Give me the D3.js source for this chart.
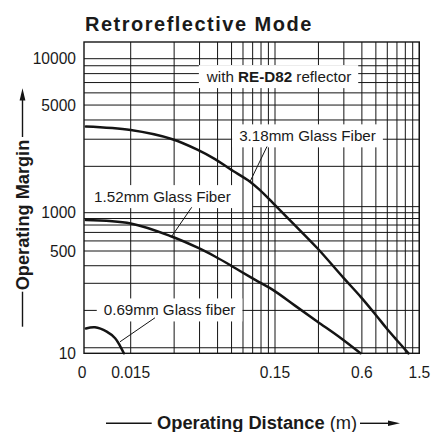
<!DOCTYPE html>
<html>
<head>
<meta charset="utf-8">
<script src="https://cdn.jsdelivr.net/npm/d3@7"></script>
<style>
  body { margin: 0; background: #fff; }
  svg { display: block; }
  text { font-family: "Liberation Sans", Arial, Helvetica, sans-serif; fill: #1a1a1a; }
</style>
</head>
<body>
<svg id="chart" width="445" height="432"></svg>
<script>
// ---- axis ticks and grid ----
const xTickValues = [0, 0.015, 0.15, 0.6, 1.5];
const xTickLabels = ["0", "0.015", "0.15", "0.6", "1.5"];
const xGridValues = [0.015, 0.03, 0.045, 0.06, 0.075, 0.09, 0.105, 0.12, 0.135, 0.15,
                     0.3, 0.45, 0.6, 0.75, 0.9, 1.05, 1.2, 1.35, 1.5];
const yTickValues = [10, 500, 1000, 5000, 10000];
const yTickLabels = ["10", "500", "1000", "5000", "10000"];
const yGridValues = [12, 41, 100, 240, 500, 600, 700, 800, 900, 1000,
                     2000, 3000, 4000, 5000, 6000, 7000, 8000, 9000, 10000];
// extra line near 1000 that only runs over the far range
const yGridFar = [1095];
const yGridFarFrom = 0.105;

// ---- excess gain curves (distance in m, operating margin) ----
const dist318   = [0.0006, 0.015, 0.0288, 0.0441, 0.0576, 0.0732, 0.1007, 0.118, 0.1459, 0.2, 0.294, 0.451, 0.589, 0.752, 0.889, 1.045, 1.262];
const margin318 = [3630, 3440, 3010, 2550, 2230, 1920, 1590, 1400, 1150, 825, 528, 128, 64, 35, 22.8, 15.5, 10];

const dist152   = [0.0006, 0.015, 0.0288, 0.0441, 0.0576, 0.0732, 0.0858, 0.1148, 0.1459, 0.2064, 0.294, 0.423, 0.587];
const margin152 = [876, 822, 650, 528, 380, 249, 185, 109, 80, 48, 28.5, 16.8, 10];

const dist069   = [0.0006, 0.0035, 0.0073, 0.01, 0.0116, 0.0128];
const margin069 = [22.6, 23.5, 20.4, 16.4, 12.7, 10];

// ---- callouts ----
const calloutText = ["3.18mm Glass Fiber", "1.52mm Glass Fiber", "0.69mm Glass fiber"];
const calloutAt   = [[0.252, 3150], [0.0249, 1270], [0.0279, 41.5]];
const leaderFrom  = [[0.132, 2690], [0.0397, 1084], [0.0221, 32.2]];
const leaderTo    = [[0.1007, 1590], [0.0288, 650], [0.01156, 14.6]];
const reflectorAt = [0.16, 7640];

// ---- layout ----
const svg = d3.select("#chart");
const plot = { left: 84, right: 419.3, top: 42, bottom: 353.3, split: 130.7 };

// Distance axis: linear from 0 to 0.015 m, logarithmic beyond.
const xNear = d3.scaleLinear().domain([0, 0.015]).range([plot.left, plot.split]);
const xFar = d3.scaleLog().domain([0.015, 1.5]).range([plot.split, plot.right]);
const x = v => (v < 0.015 ? xNear(v) : xFar(v));

// Margin axis: piecewise logarithmic.
const y = d3.scaleLog()
  .domain([10, 100, 500, 1000, 10000, 13000])
  .range([plot.bottom, 283.3, 251, 212.7, 58.7, plot.top]);

const ink = "#141414";

// grid
const grid = svg.append("g").attr("stroke", ink).attr("stroke-width", 1);
grid.selectAll("line.v").data(xGridValues).join("line")
  .attr("x1", d => x(d)).attr("x2", d => x(d))
  .attr("y1", plot.top).attr("y2", plot.bottom);
grid.selectAll("line.h").data(yGridValues).join("line")
  .attr("x1", plot.left).attr("x2", plot.right)
  .attr("y1", d => y(d)).attr("y2", d => y(d));
grid.selectAll("line.hf").data(yGridFar).join("line")
  .attr("x1", x(yGridFarFrom)).attr("x2", plot.right)
  .attr("y1", d => y(d)).attr("y2", d => y(d));

// frame
svg.append("rect")
  .attr("x", plot.left).attr("y", plot.top)
  .attr("width", plot.right - plot.left).attr("height", plot.bottom - plot.top)
  .attr("fill", "none").attr("stroke", ink).attr("stroke-width", 1.4);

// white backing behind a text group
function boxedText(g, padX, padY) {
  const bb = g.node().getBBox();
  g.insert("rect", ":first-child")
    .attr("x", bb.x - padX).attr("y", bb.y - padY)
    .attr("width", bb.width + 2 * padX).attr("height", bb.height + 2 * padY)
    .attr("fill", "#fff");
}

const refG = svg.append("g");
const refT = refG.append("text")
  .attr("x", x(reflectorAt[0])).attr("y", y(reflectorAt[1]) + 5.4)
  .attr("text-anchor", "middle").attr("font-size", 15.2);
refT.append("tspan").text("with ");
refT.append("tspan").attr("font-weight", "bold").text("RE-D82");
refT.append("tspan").text(" reflector");
boxedText(refG, 7, 3);

calloutText.forEach((t, i) => {
  const g = svg.append("g");
  g.append("text")
    .attr("x", x(calloutAt[i][0])).attr("y", y(calloutAt[i][1]) + 5.4)
    .attr("text-anchor", "middle").attr("font-size", 15.2)
    .text(t);
  boxedText(g, 7, 3);
  svg.append("line")
    .attr("x1", x(leaderFrom[i][0])).attr("y1", y(leaderFrom[i][1]))
    .attr("x2", x(leaderTo[i][0])).attr("y2", y(leaderTo[i][1]))
    .attr("stroke", ink).attr("stroke-width", 1);
});

// curves
const line = d3.line()
  .x(d => x(d[0])).y(d => y(d[1]))
  .curve(d3.curveCatmullRom.alpha(0.5));
[[dist318, margin318], [dist152, margin152], [dist069, margin069]].forEach(([ds, ms]) => {
  svg.append("path")
    .datum(ds.map((d, i) => [d, ms[i]]))
    .attr("d", line)
    .attr("fill", "none").attr("stroke", ink).attr("stroke-width", 2.5)
    .attr("stroke-linecap", "round");
});

// tick labels
svg.append("g").selectAll("text").data(yTickValues).join("text")
  .attr("x", 76).attr("y", d => y(d) + 5.6)
  .attr("text-anchor", "end").attr("font-size", 15.6)
  .text((d, i) => yTickLabels[i]);
svg.append("g").selectAll("text").data(xTickValues).join("text")
  .attr("x", (d, i) => x(d) - (i === 0 ? 2 : 0)).attr("y", 378.3)
  .attr("text-anchor", "middle").attr("font-size", 15.6)
  .text((d, i) => xTickLabels[i]);

// title
svg.append("text")
  .attr("x", 85).attr("y", 30.7)
  .attr("font-size", 20).attr("font-weight", "bold").attr("letter-spacing", 1.5)
  .text("Retroreflective Mode");

// x axis title with arrow
const xt = svg.append("text").attr("x", 157).attr("y", 428.5).attr("font-size", 18.3);
xt.append("tspan").attr("font-weight", "bold").text("Operating Distance");
xt.append("tspan").text(" (m)");
svg.append("line").attr("x1", 106).attr("x2", 151.7).attr("y1", 423.3).attr("y2", 423.3)
  .attr("stroke", ink).attr("stroke-width", 1.4);
svg.append("line").attr("x1", 360).attr("x2", 392).attr("y1", 423.3).attr("y2", 423.3)
  .attr("stroke", ink).attr("stroke-width", 1.4);
svg.append("path").attr("d", "M400,423.3 L388,420.5 L388,426.1 Z").attr("fill", ink);

// y axis title with arrow
svg.append("text")
  .attr("transform", "translate(28.5,215) rotate(-90)")
  .attr("text-anchor", "middle").attr("font-size", 18.2).attr("font-weight", "bold")
  .text("Operating Margin");
svg.append("line").attr("x1", 22.5).attr("x2", 22.5).attr("y1", 98).attr("y2", 137)
  .attr("stroke", ink).attr("stroke-width", 1.4);
svg.append("path").attr("d", "M22.5,88.3 L19.6,100.5 L25.4,100.5 Z").attr("fill", ink);
svg.append("line").attr("x1", 22.5).attr("x2", 22.5).attr("y1", 291.7).attr("y2", 326.7)
  .attr("stroke", ink).attr("stroke-width", 1.4);
</script>
</body>
</html>
